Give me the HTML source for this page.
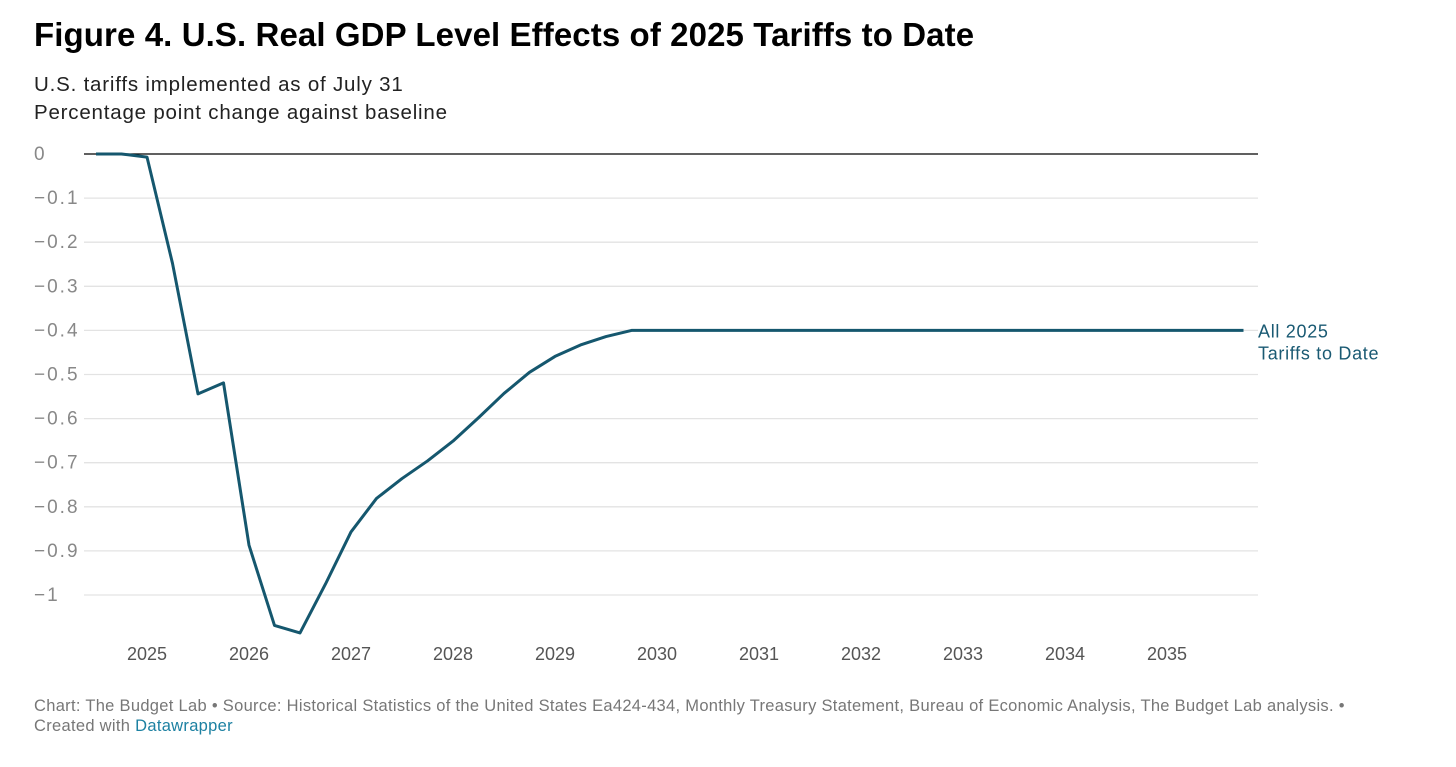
<!DOCTYPE html>
<html><head><meta charset="utf-8"><style>
body{margin:0;background:#fff;font-family:"Liberation Sans",sans-serif;}
#wrap{position:relative;width:1456px;height:767px;overflow:hidden}
h1{position:absolute;left:34px;top:16px;margin:0;font-size:33px;font-weight:bold;color:#000;letter-spacing:0.1px}
.sub{position:absolute;left:34px;font-size:20.5px;color:#222;letter-spacing:0.8px}
.foot{position:absolute;left:34px;font-size:16.5px;color:#777;letter-spacing:0.3px}
</style></head><body>
<div id="wrap">
<h1>Figure 4. U.S. Real GDP Level Effects of 2025 Tariffs to Date</h1>
<div class="sub" style="top:73px">U.S. tariffs implemented as of July 31</div>
<div class="sub" style="top:101px">Percentage point change against baseline</div>
<svg id="chart" width="1456" height="767" style="position:absolute;left:0;top:0"></svg>
<div class="foot" style="top:697px">Chart: The Budget Lab • Source: Historical Statistics of the United States Ea424-434, Monthly Treasury Statement, Bureau of Economic Analysis, The Budget Lab analysis. •</div>
<div class="foot" style="top:717px">Created with <span style="color:#1d81a2">Datawrapper</span></div>
</div>
<script>
const values=[0,0,-0.007,-0.248,-0.544,-0.519,-0.887,-1.069,-1.086,-0.975,-0.857,-0.781,-0.736,-0.696,-0.651,-0.598,-0.543,-0.495,-0.459,-0.433,-0.414,-0.400,-0.4,-0.4,-0.4,-0.4,-0.4,-0.4,-0.4,-0.4,-0.4,-0.4,-0.4,-0.4,-0.4,-0.4,-0.4,-0.4,-0.4,-0.4,-0.4,-0.4,-0.4,-0.4,-0.4,-0.4];
const yTicks=[0,-0.1,-0.2,-0.3,-0.4,-0.5,-0.6,-0.7,-0.8,-0.9,-1];
const yTickLabels=["0","\u22120.1","\u22120.2","\u22120.3","\u22120.4","\u22120.5","\u22120.6","\u22120.7","\u22120.8","\u22120.9","\u22121"];
const xYears=[2025,2026,2027,2028,2029,2030,2031,2032,2033,2034,2035];
const seriesLabel=["All 2025","Tariffs to Date"];
const NS="http://www.w3.org/2000/svg";
const svg=document.getElementById('chart');
const xq=i=>96+i*25.5;
const xYear=y=>xq((y-2025)*4+2);
const yv=v=>154-v*441;
function mk(t,a){const e=document.createElementNS(NS,t);for(const k in a)e.setAttribute(k,a[k]);svg.appendChild(e);return e;}
yTicks.forEach((t,i)=>{
  const g=mk('line',{x1:84,x2:1258,y1:yv(t),y2:yv(t),stroke:t===0?'#000':'#e3e3e3','stroke-width':t===0?1.2:1.3});
  
  
  const l=mk('text',{x:34,y:yv(t)+6,'font-size':19,fill:'#888','letter-spacing':'2','font-family':'Liberation Sans,sans-serif'});
  l.textContent=yTickLabels[i];
  
  
});
xYears.forEach(y=>{
  const l=mk('text',{x:xYear(y),y:660,'font-size':18,fill:'#555','text-anchor':'middle','font-family':'Liberation Sans,sans-serif'});
  l.textContent=y;
  
  
});
const p=mk('polyline',{points:values.map((v,i)=>xq(i)+','+yv(v)).join(' '),fill:'none',stroke:'#15576e','stroke-width':3,'stroke-linejoin':'round'});


seriesLabel.forEach((s,i)=>{
  const l=mk('text',{x:1258,y:yv(values[values.length-1])+7+i*22,'font-size':18,fill:'#1a5a73','letter-spacing':'0.7','font-family':'Liberation Sans,sans-serif'});
  l.textContent=s;
  
  
});
</script>
</body></html>
